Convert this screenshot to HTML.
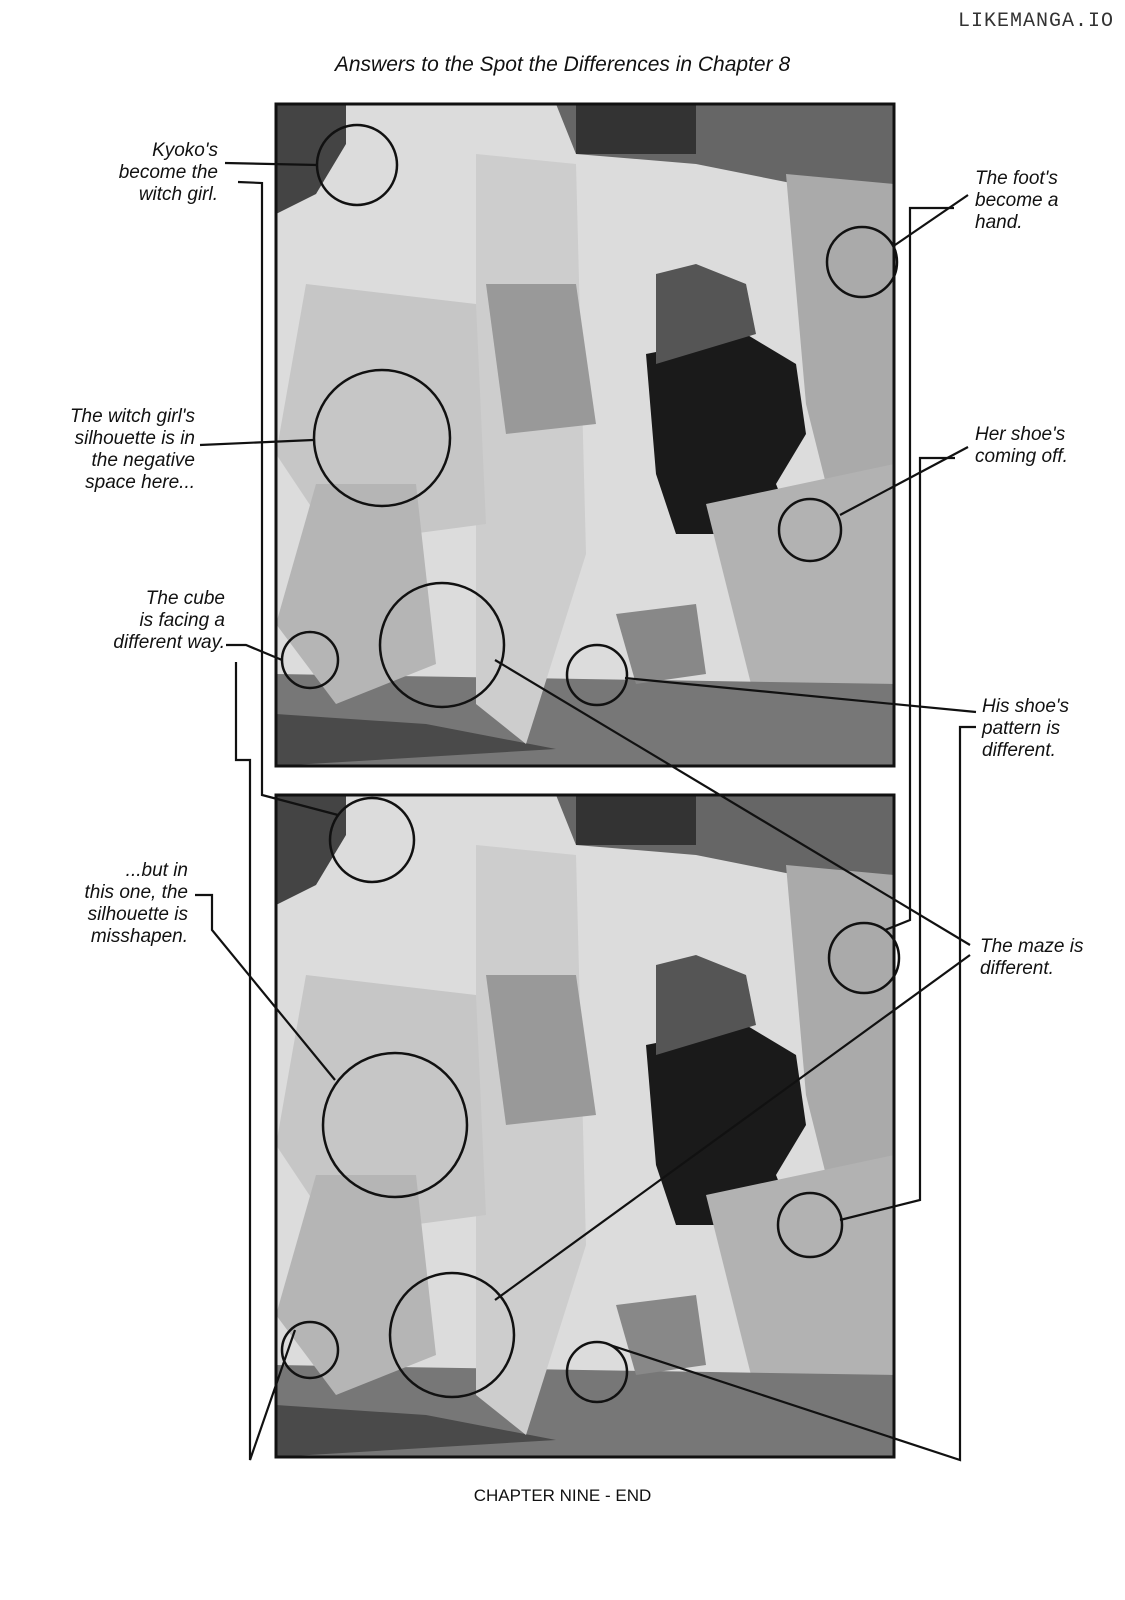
<!DOCTYPE html>
<html><head><meta charset="utf-8"><style>
html,body{margin:0;padding:0;background:#fff;}
body{width:1125px;height:1600px;position:relative;overflow:hidden;font-family:"Liberation Sans",sans-serif;}
.t{position:absolute;font-style:italic;font-size:19px;line-height:22px;color:#111;}
.r{text-align:right}
</style></head><body>
<div class="t" style="left:0;width:1125px;top:54px;text-align:center;font-size:21px;">Answers to the Spot the Differences in Chapter 8</div>
<div style="position:absolute;left:958px;top:10px;font-size:20px;letter-spacing:1px;color:#333;font-family:'Liberation Mono',monospace;">LIKEMANGA.IO</div>
<div class="t r" style="left:60px;width:158px;top:140px;">Kyoko's<br>become the<br>witch girl.</div>
<div class="t r" style="left:20px;width:175px;top:406px;">The witch girl's<br>silhouette is in<br>the negative<br>space here...</div>
<div class="t r" style="left:40px;width:185px;top:588px;">The cube<br>is facing a<br>different way.</div>
<div class="t r" style="left:40px;width:148px;top:860px;">...but in<br>this one, the<br>silhouette is<br>misshapen.</div>
<div class="t" style="left:975px;top:168px;">The foot's<br>become a<br>hand.</div>
<div class="t" style="left:975px;top:424px;">Her shoe's<br>coming off.</div>
<div class="t" style="left:982px;top:696px;">His shoe's<br>pattern is<br>different.</div>
<div class="t" style="left:980px;top:936px;">The maze is<br>different.</div>
<div style="position:absolute;left:0;width:1125px;top:1486px;text-align:center;font-size:17px;color:#111;">CHAPTER NINE - END</div>
<svg width="1125" height="1600" style="position:absolute;left:0;top:0" xmlns="http://www.w3.org/2000/svg">
<defs>
<g id="panel">
<rect x="0" y="0" width="618" height="662" fill="#dcdcdc"/>
<polygon points="0,0 70,0 70,40 40,90 0,110" fill="#444"/>
<polygon points="280,0 618,0 618,120 520,80 420,60 300,50" fill="#666"/>
<polygon points="300,0 420,0 420,50 300,50" fill="#333"/>
<polygon points="370,250 470,230 520,260 530,330 500,380 520,430 400,430 380,370" fill="#1a1a1a"/>
<polygon points="380,170 420,160 470,180 480,230 380,260" fill="#555"/>
<polygon points="510,70 618,80 618,400 560,420 530,300" fill="#aaa"/>
<polygon points="430,400 618,360 618,620 480,600" fill="#b2b2b2"/>
<polygon points="0,570 618,580 618,662 0,662" fill="#777"/>
<polygon points="0,610 150,620 280,645 0,662" fill="#4a4a4a"/>
<polygon points="200,50 300,60 310,450 250,640 200,600" fill="#cdcdcd"/>
<polygon points="210,180 300,180 320,320 230,330" fill="#999"/>
<polygon points="30,180 200,200 210,420 60,440 0,350" fill="#c6c6c6"/>
<polygon points="40,380 140,380 160,560 60,600 0,520" fill="#b5b5b5"/>
<polygon points="340,510 420,500 430,570 360,580" fill="#888"/>
<rect x="0" y="0" width="618" height="662" fill="none" stroke="#111" stroke-width="3"/>
</g>
</defs>
<use href="#panel" x="276" y="104"/>
<use href="#panel" x="276" y="795"/>
<g fill="none" stroke="#111" stroke-width="2.5">
<circle cx="357" cy="165" r="40"/><circle cx="862" cy="262" r="35"/>
<circle cx="382" cy="438" r="68"/><circle cx="810" cy="530" r="31"/>
<circle cx="442" cy="645" r="62"/><circle cx="310" cy="660" r="28"/>
<circle cx="597" cy="675" r="30"/>
<circle cx="372" cy="840" r="42"/><circle cx="864" cy="958" r="35"/>
<circle cx="395" cy="1125" r="72"/><circle cx="810" cy="1225" r="32"/>
<circle cx="452" cy="1335" r="62"/><circle cx="310" cy="1350" r="28"/>
<circle cx="597" cy="1372" r="30"/>
</g>
<g fill="none" stroke="#111" stroke-width="2.2">
<polyline points="225,163 318,165"/>
<polyline points="238,182 262,183 262,795 338,815"/>
<polyline points="200,445 313,440"/>
<polyline points="195,895 212,895 212,930 335,1080"/>
<polyline points="226,645 246,645 282,660"/>
<polyline points="236,662 236,760 250,760 250,1460 295,1330"/>
<polyline points="968,195 895,245"/>
<polyline points="954,208 910,208 910,920 885,930"/>
<polyline points="968,447 840,515"/>
<polyline points="955,458 920,458 920,1200 840,1220"/>
<polyline points="976,712 625,678"/>
<polyline points="976,727 960,727 960,1460 610,1345"/>
<polyline points="970,945 495,660"/>
<polyline points="970,955 495,1300"/>
</g>
</svg>
</body></html>
